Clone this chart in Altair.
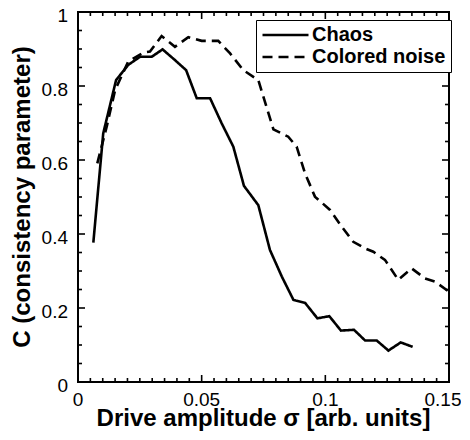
import altair as alt
import pandas as pd

# ---- data ----
series_names = ["Chaos", "Colored noise"]

chaos_x = [0.0062, 0.0102, 0.0154, 0.0203, 0.0251, 0.0298, 0.0342, 0.0392, 0.0437,
           0.0480, 0.0534, 0.0581, 0.0628, 0.0671, 0.0729, 0.0776, 0.0824, 0.0871,
           0.0918, 0.0968, 0.1016, 0.1063, 0.1116, 0.1161, 0.1208, 0.1255, 0.1305, 0.1353]
chaos_y = [0.377, 0.672, 0.816, 0.857, 0.879, 0.879, 0.899, 0.870, 0.843,
           0.767, 0.767, 0.699, 0.636, 0.530, 0.478, 0.357, 0.285, 0.222,
           0.214, 0.172, 0.178, 0.139, 0.141, 0.112, 0.112, 0.085, 0.107, 0.095]

noise_x = [0.0078, 0.0116, 0.0150, 0.0203, 0.0264, 0.0291, 0.0338, 0.0392, 0.0446,
           0.0500, 0.0567, 0.0615, 0.0668, 0.0729, 0.0790, 0.0850, 0.0884, 0.0918,
           0.0958, 0.1019, 0.1066, 0.1113, 0.1161, 0.1194, 0.1241, 0.1295, 0.1349,
           0.1403, 0.1444, 0.1500]
noise_y = [0.591, 0.690, 0.789, 0.866, 0.890, 0.893, 0.935, 0.906, 0.932,
           0.922, 0.922, 0.888, 0.843, 0.816, 0.683, 0.663, 0.636, 0.564,
           0.501, 0.465, 0.420, 0.379, 0.361, 0.352, 0.330, 0.276, 0.307,
           0.280, 0.271, 0.244]

x_major = [0, 0.05, 0.1, 0.15]
x_labels = ["0", "0.05", "0.1", "0.15"]
x_minor = [0.005, 0.01, 0.015, 0.02, 0.025, 0.03, 0.035, 0.04, 0.045,
           0.055, 0.06, 0.065, 0.07, 0.075, 0.08, 0.085, 0.09, 0.095,
           0.105, 0.11, 0.115, 0.12, 0.125, 0.13, 0.135, 0.14, 0.145]
y_major = [0, 0.2, 0.4, 0.6, 0.8, 1]
y_labels = ["0", "0.2", "0.4", "0.6", "0.8", "1"]
y_minor = [0.05, 0.1, 0.15, 0.25, 0.3, 0.35, 0.45, 0.5,
           0.55, 0.65, 0.7, 0.75, 0.85, 0.9, 0.95]

x_title = "Drive amplitude σ [arb. units]"
y_title = "C (consistency parameter)"

df = pd.concat([
    pd.DataFrame({"x": chaos_x, "y": chaos_y, "series": series_names[0]}),
    pd.DataFrame({"x": noise_x, "y": noise_y, "series": series_names[1]}),
])

FONT = "Liberation Sans"
W, H = 371, 370
XMAX, YMAX = 0.15, 1.0
xs = alt.Scale(domain=[0, XMAX], nice=False, zero=False)
ys = alt.Scale(domain=[0, YMAX], nice=False, zero=False)

MAJ, MIN = 7, 4  # tick lengths in pixels

main = alt.Chart(df).mark_line(strokeWidth=2.6, color="black").encode(
    x=alt.X("x:Q", scale=xs, axis=None),
    y=alt.Y("y:Q", scale=ys, axis=None),
    strokeDash=alt.StrokeDash(
        "series:N",
        scale=alt.Scale(domain=series_names, range=[[1, 0], [10, 6]]),
        legend=alt.Legend(
            title=None, orient="none", legendX=178, legendY=8,
            strokeColor="black", fillColor="white", padding=5,
            symbolType="stroke", symbolSize=2116, symbolStrokeWidth=2.6,
            symbolStrokeColor="black", labelFont=FONT, labelFontSize=20,
            labelFontWeight="bold", labelColor="black", labelOffset=2,
            rowPadding=2, clipHeight=20,
        ),
    ),
)


def x_ticks(values, length):
    """Inward ticks on bottom and top edges; both ends go through the scales."""
    dy = YMAX * length / H
    d = pd.DataFrame({"v": values, "b0": 0.0, "b1": dy, "t0": YMAX, "t1": YMAX - dy})
    base = alt.Chart(d).mark_rule(color="black", strokeWidth=1.6)
    xenc = alt.X("v:Q", scale=xs, axis=None)
    bottom = base.encode(x=xenc, y=alt.Y("b0:Q", scale=ys, axis=None), y2="b1:Q")
    top = base.encode(x=xenc, y=alt.Y("t0:Q", scale=ys, axis=None), y2="t1:Q")
    return [bottom, top]


def y_ticks(values, length):
    """Inward ticks on left and right edges; both ends go through the scales."""
    dx = XMAX * length / W
    d = pd.DataFrame({"v": values, "l0": 0.0, "l1": dx, "r0": XMAX, "r1": XMAX - dx})
    base = alt.Chart(d).mark_rule(color="black", strokeWidth=1.6)
    yenc = alt.Y("v:Q", scale=ys, axis=None)
    left = base.encode(y=yenc, x=alt.X("l0:Q", scale=xs, axis=None), x2="l1:Q")
    right = base.encode(y=yenc, x=alt.X("r0:Q", scale=xs, axis=None), x2="r1:Q")
    return [left, right]


# tick labels, placed through the scales
xl = pd.DataFrame({"v": x_major, "t": x_labels})
x_lab = alt.Chart(xl.iloc[:-1]).mark_text(
    font=FONT, fontSize=19, color="black", align="center", baseline="alphabetic"
).encode(x=alt.X("v:Q", scale=xs, axis=None), y=alt.value(H + 24), text="t:N")
x_lab_last = alt.Chart(xl.iloc[-1:]).mark_text(
    font=FONT, fontSize=19, color="black", align="center", baseline="alphabetic", dx=-6
).encode(x=alt.X("v:Q", scale=xs, axis=None), y=alt.value(H + 24), text="t:N")

yl = pd.DataFrame({"v": y_major, "t": y_labels})
y_lab = alt.Chart(yl).mark_text(
    font=FONT, fontSize=19, color="black", align="right", baseline="middle", dy=4
).encode(y=alt.Y("v:Q", scale=ys, axis=None), x=alt.value(-10), text="t:N")

# axis titles
xt = alt.Chart(pd.DataFrame({"t": [x_title]})).mark_text(
    font=FONT, fontSize=24, fontWeight="bold", color="black",
    align="center", baseline="alphabetic"
).encode(x=alt.value(W / 2), y=alt.value(H + 44), text="t:N")
yt = alt.Chart(pd.DataFrame({"t": [y_title]})).mark_text(
    font=FONT, fontSize=24, fontWeight="bold", color="black",
    align="center", baseline="alphabetic", angle=270
).encode(x=alt.value(-48), y=alt.value(H / 2), text="t:N")

layers = ([main] + x_ticks(x_major, MAJ) + x_ticks(x_minor, MIN)
          + y_ticks(y_major, MAJ) + y_ticks(y_minor, MIN)
          + [x_lab, x_lab_last, y_lab, xt, yt])

chart = alt.layer(*layers).properties(
    width=W, height=H,
    padding={"left": 70, "top": 4, "right": 12, "bottom": 50},
    autosize=alt.AutoSizeParams(type="none"),
).configure_view(stroke="black", strokeWidth=2)

chart.save("out.html", embed_options={"renderer": "svg", "actions": False})
